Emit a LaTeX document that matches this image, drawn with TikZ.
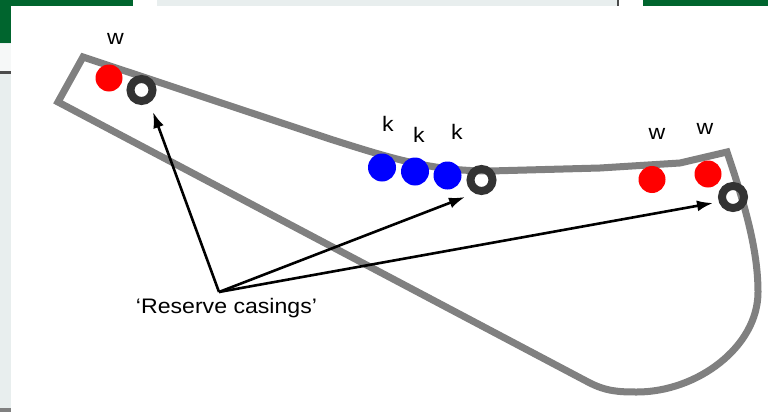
\documentclass[tikz,border=0pt]{standalone}
\usepackage{fontspec}
\setmainfont{Liberation Sans}
\usetikzlibrary{arrows.meta}
\definecolor{hdrgreen}{HTML}{00652E}
\definecolor{panelgray}{HTML}{E8EEEE}
\definecolor{trackgray}{HTML}{808080}
\definecolor{ringgray}{HTML}{333333}

\begin{document}
\begin{tikzpicture}[x=1pt,y=-1pt,
  track/.style={draw=trackgray, line width=7pt, line join=miter},
  wagon/.style={circle, fill=red, minimum size=27pt, inner sep=0pt},
  kdot/.style={circle, fill=blue, minimum size=28pt, inner sep=0pt},
  casing/.style={circle, draw=ringgray, line width=8pt, minimum size=22pt, inner sep=0pt},
  lbl/.style={font=\fontsize{21}{25}\selectfont, xscale=1.1, inner sep=0pt},
  pointer/.style={draw=black, line width=2.6pt, -{Latex[length=16pt,width=11pt]}}
]
\useasboundingbox (0,0) rectangle (768,412);

% window chrome behind the panel
\fill[panelgray] (0,0) rectangle (768,412);
\fill[hdrgreen] (0,0) rectangle (133,6);
\fill[white] (133,0) rectangle (157,6);
\fill[black!70] (617,0) rectangle (619,6);
\fill[white] (619,0) rectangle (643,6);
\fill[hdrgreen] (643,0) rectangle (768,6);
\fill[hdrgreen] (0,0) rectangle (11,43);
\fill[panelgray!40!white] (0,44) rectangle (11,71);
\fill[black!70] (0,71) rectangle (11,74);
\fill[black!50] (0,408) rectangle (11,412);
\fill[white] (11,6) rectangle (768,412);

% track loop
\draw[track] (83,57) -- (58,102) -- (588,382)
  .. controls (606,391.5) and (619,392) .. (637,392)
  .. controls (697,392) and (758,347) .. (758,292)
  .. controls (758,250) and (745,205) .. (727,152)
  -- (680,163) -- (600,168) -- (490,171)
  .. controls (430,171) and (390,158) .. (330,139) -- cycle;

% wagons
\node[wagon] (w1) at (109,78) {};
\node[wagon] (w2) at (652,179.5) {};
\node[wagon] (w3) at (708,174) {};
\node[kdot] (k1) at (382,167.5) {};
\node[kdot] (k2) at (415,171.5) {};
\node[kdot] (k3) at (447.5,175.5) {};

% reserve casings
\node[casing] (c1) at (141.5,90) {};
\node[casing] (c2) at (481.5,180) {};
\node[casing] (c3) at (733,197) {};

% labels
\node[lbl] (lw1) at (115.5,39) {w};
\node[lbl] (lk1) at (388,124) {k};
\node[lbl] (lk2) at (419,135) {k};
\node[lbl] (lk3) at (457,132) {k};
\node[lbl] (lw2) at (657,134) {w};
\node[lbl] (lw3) at (705,129) {w};
\node[lbl, anchor=base] (res) at (226.5,313) {‘Reserve casings’};

% pointers
\coordinate (apex) at (219,292);
\coordinate (t1) at (153,112);
\coordinate (t2) at (465,197);
\coordinate (t3) at (713,203);
\draw[pointer] (apex) -- (t1);
\draw[pointer] (apex) -- (t2);
\draw[pointer] (apex) -- (t3);
\end{tikzpicture}
\end{document}
